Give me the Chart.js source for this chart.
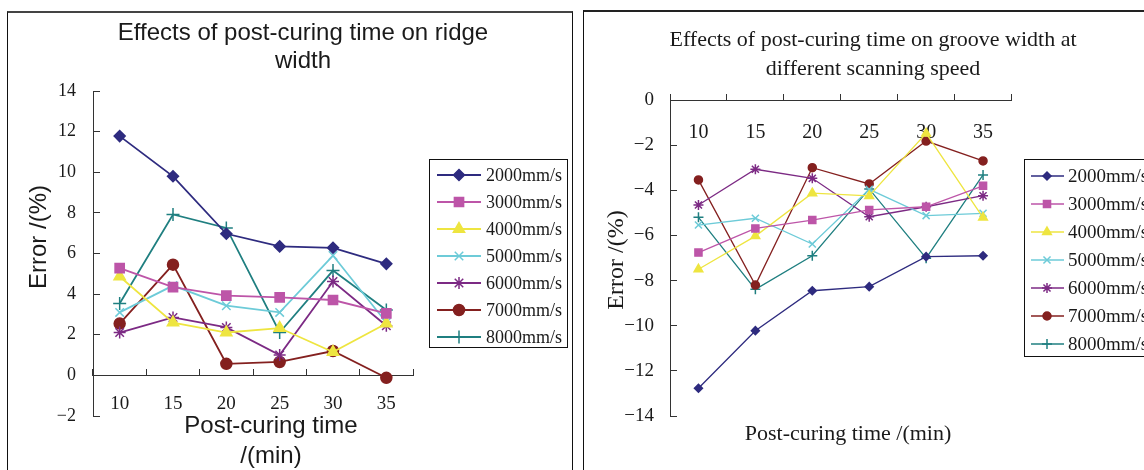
<!DOCTYPE html>
<html>
<head>
<meta charset="utf-8">
<script src="https://cdn.jsdelivr.net/npm/chart.js"></script>
<style>
  html, body { margin: 0; padding: 0; background: #fff; }
  body { width: 1144px; height: 470px; overflow: hidden; position: relative; }
  .frame { position: absolute; box-sizing: border-box; }
  #f1 { left: 7px; top: 11px; width: 566px; height: 520px; border-left: 1px solid #111; border-top: 2px solid #444; border-right: 1px solid #111; }
  #f2 { left: 583px; top: 10px; width: 620px; height: 520px; border-left: 1px solid #111; border-top: 2px solid #222; }
  #c1 { position: absolute; left: 0; top: 0; }
  #c2 { position: absolute; left: 578px; top: 0; }
</style>
</head>
<body>
<div class="frame" id="f1"></div>
<div class="frame" id="f2"></div>
<canvas id="c1" width="578" height="470"></canvas>
<canvas id="c2" width="566" height="470"></canvas>
<script>
// ---------- data ----------
const categories = ['10', '15', '20', '25', '30', '35'];
const speedLabels = ['2000mm/s', '3000mm/s', '4000mm/s', '5000mm/s', '6000mm/s', '7000mm/s', '8000mm/s'];

// ridge width error (%)
const ridge2000 = [11.78, 9.80, 6.97, 6.35, 6.28, 5.49];
const ridge3000 = [5.28, 4.34, 3.93, 3.84, 3.71, 3.05];
const ridge4000 = [4.87, 2.60, 2.11, 2.33, 1.15, 2.55];
const ridge5000 = [3.10, 4.42, 3.43, 3.10, 5.90, 2.60];
const ridge6000 = [2.11, 2.85, 2.36, 1.00, 4.62, 2.44];
const ridge7000 = [2.55, 5.45, 0.57, 0.66, 1.20, -0.12];
const ridge8000 = [3.54, 7.92, 7.26, 2.11, 5.16, 3.22];

// groove width error (%)
const groove2000 = [-12.77, -10.22, -8.45, -8.27, -6.94, -6.90];
const groove3000 = [-6.76, -5.69, -5.32, -4.87, -4.73, -3.80];
const groove4000 = [-7.50, -6.03, -4.13, -4.25, -1.48, -5.21];
const groove5000 = [-5.54, -5.24, -6.38, -3.96, -5.12, -5.02];
const groove6000 = [-4.65, -3.07, -3.47, -5.17, -4.73, -4.24];
const groove7000 = [-3.54, -8.20, -3.00, -3.72, -1.82, -2.70];
const groove8000 = [-5.20, -8.39, -6.90, -3.94, -7.01, -3.32];

const ridgeYTicks = [-2, 0, 2, 4, 6, 8, 10, 12, 14];
const grooveYTicks = [-14, -12, -10, -8, -6, -4, -2, 0];

const ridgeSeries = [ridge2000, ridge3000, ridge4000, ridge5000, ridge6000, ridge7000, ridge8000];
const grooveSeries = [groove2000, groove3000, groove4000, groove5000, groove6000, groove7000, groove8000];

// ---------- styles ----------
const colors = ['#2e2b7f', '#bd55a8', '#eee540', '#6dcbd8', '#7c2a84', '#84201f', '#1f7f80'];
const pointStyles = ['rectRot', 'rect', 'triangle', 'crossRot', 'star', 'circle', 'cross'];
const SERIF = '"Liberation Serif", "Times New Roman", serif';
const SANS = '"Liberation Sans", Arial, sans-serif';

function makeDatasets(series, radii, lineW) {
  return series.map((d, i) => ({
    label: speedLabels[i],
    data: d,
    borderColor: colors[i],
    backgroundColor: colors[i],
    pointBackgroundColor: colors[i],
    pointBorderColor: colors[i],
    pointStyle: pointStyles[i],
    pointRadius: radii[i],
    pointBorderWidth: 1.5,
    borderWidth: lineW,
    tension: 0,
    fill: false,
    clip: false
  }));
}

const minus = v => String(v).replace('-', '\u2212');

const panelPlugin = {
  id: 'panelText',
  afterDraw(chart, args, opts) {
    const ctx = chart.ctx;
    ctx.save();
    (opts.texts || []).forEach(t => {
      ctx.save();
      ctx.fillStyle = '#1a1a1a';
      ctx.font = t.font;
      ctx.textAlign = 'center';
      ctx.textBaseline = 'alphabetic';
      ctx.translate(t.x, t.y);
      if (t.rot) ctx.rotate(t.rot);
      ctx.fillText(t.text, 0, 0);
      ctx.restore();
    });
    const L = opts.legend;
    if (L) {
      ctx.strokeStyle = '#111';
      ctx.lineWidth = 1;
      ctx.strokeRect(L.bx, L.by, L.bw, L.bh);
      chart.data.datasets.forEach((ds, i) => {
        const y = L.y0 + i * L.dy;
        ctx.strokeStyle = ds.borderColor;
        ctx.lineWidth = ds.borderWidth;
        ctx.beginPath();
        ctx.moveTo(L.lx1, y);
        ctx.lineTo(L.lx2, y);
        ctx.stroke();
        ctx.fillStyle = ds.pointBackgroundColor;
        ctx.strokeStyle = ds.pointBorderColor;
        ctx.lineWidth = ds.pointBorderWidth;
        if (Chart.helpers && Chart.helpers.drawPoint) {
          Chart.helpers.drawPoint(ctx, { pointStyle: ds.pointStyle, radius: L.r[i], rotation: 0, borderWidth: ds.pointBorderWidth }, L.mx, y);
        }
        ctx.fillStyle = '#1a1a1a';
        ctx.font = L.font;
        ctx.textAlign = 'left';
        ctx.textBaseline = 'middle';
        ctx.fillText(ds.label, L.tx, y + 1);
      });
    }
    ctx.restore();
  }
};

function axisCfg(yTicks, ymin, ymax, yWidth, yPad, xPad, tickFont, xTickFont) {
  return {
    x: {
      type: 'category',
      offset: true,
      position: { y: 0 },
      grid: { offset: true, drawOnChartArea: false, tickLength: -7, color: '#333', lineWidth: 1 },
      border: { color: '#333', width: 1 },
      ticks: { padding: xPad, color: '#1a1a1a', font: xTickFont, maxRotation: 0, autoSkip: false }
    },
    y: {
      type: 'linear',
      min: ymin,
      max: ymax,
      position: 'left',
      afterBuildTicks: s => { s.ticks = yTicks.map(v => ({ value: v })); },
      afterFit: s => { s.width = yWidth; },
      grid: { drawOnChartArea: false, tickLength: -7, color: '#333', lineWidth: 1 },
      border: { color: '#333', width: 1 },
      ticks: { padding: yPad, color: '#1a1a1a', font: tickFont, callback: v => minus(v) }
    }
  };
}

// ---------- left chart: ridge width ----------
new Chart(document.getElementById('c1'), {
  type: 'line',
  data: { labels: categories, datasets: makeDatasets(ridgeSeries, [5.5, 6.5, 6.5, 6, 6, 5.5, 6.5], 1.8) },
  options: {
    responsive: false,
    animation: false,
    events: [],
    layout: { padding: { left: 0, top: 91, right: 165, bottom: 54 } },
    scales: axisCfg(ridgeYTicks, -2, 14, 93, 24, 24,
      { family: SERIF, size: 18 }, { family: SERIF, size: 19 }),
    plugins: {
      legend: { display: false },
      tooltip: { enabled: false },
      panelText: {
        texts: [
          { text: 'Effects of post-curing time on ridge', x: 303, y: 40, font: '24px ' + SANS },
          { text: 'width', x: 303, y: 68, font: '24px ' + SANS },
          { text: 'Error /(%)', x: 46, y: 237, rot: -Math.PI / 2, font: '24px ' + SANS },
          { text: 'Post-curing time', x: 271, y: 433, font: '24px ' + SANS },
          { text: '/(min)', x: 271, y: 463, font: '24px ' + SANS }
        ],
        legend: { bx: 429.5, by: 159.5, bw: 138, bh: 188, y0: 175, dy: 27, lx1: 437, lx2: 481, mx: 459, tx: 486,
          r: [5.5, 6.5, 6.5, 6, 6, 5.5, 6.5], font: '18px ' + SERIF }
      }
    }
  },
  plugins: [panelPlugin]
});

// ---------- right chart: groove width ----------
new Chart(document.getElementById('c2'), {
  type: 'line',
  data: { labels: categories, datasets: makeDatasets(grooveSeries, [4, 5, 5, 5, 5, 4, 5], 1.3) },
  options: {
    responsive: false,
    animation: false,
    events: [],
    layout: { padding: { left: 0, top: 100, right: 132.5, bottom: 54 } },
    scales: axisCfg(grooveYTicks, -14, 0, 92, 23, 28,
      { family: SERIF, size: 19 }, { family: SERIF, size: 20 }),
    plugins: {
      legend: { display: false },
      tooltip: { enabled: false },
      panelText: {
        texts: [
          { text: 'Effects of post-curing time on groove width at', x: 295, y: 46, font: '22px ' + SERIF },
          { text: 'different scanning speed', x: 295, y: 75, font: '22px ' + SERIF },
          { text: 'Error /(%)', x: 45, y: 260, rot: -Math.PI / 2, font: '24px ' + SERIF },
          { text: 'Post-curing time /(min)', x: 270, y: 440, font: '22px ' + SERIF }
        ],
        legend: { bx: 446.5, by: 159.5, bw: 200, bh: 197, y0: 176, dy: 28, lx1: 453, lx2: 486, mx: 469, tx: 490,
          r: [4, 5, 5, 5, 5, 4, 5], font: '19px ' + SERIF }
      }
    }
  },
  plugins: [panelPlugin]
});
</script>
</body>
</html>
